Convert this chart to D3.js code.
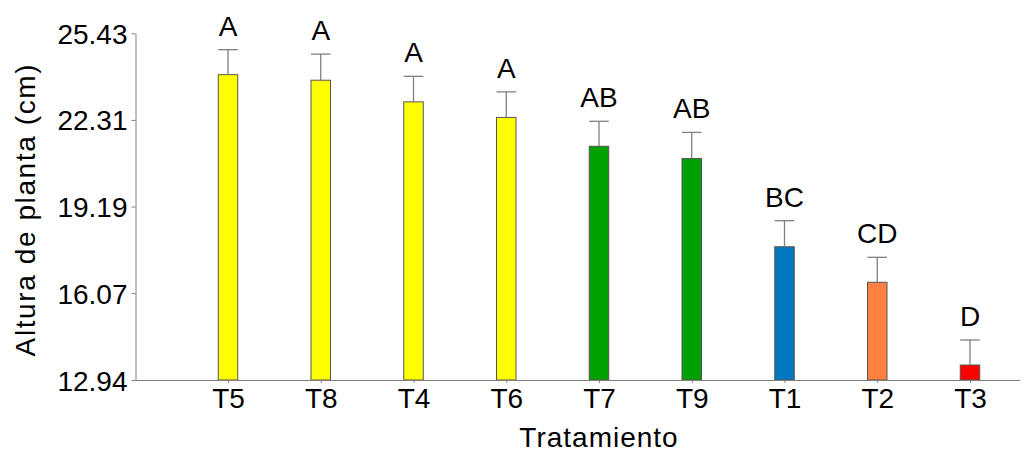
<!DOCTYPE html>
<html lang="es">
<head>
<meta charset="UTF-8">
<title>Altura de planta</title>
<script src="https://d3js.org/d3.v7.min.js"></script>
<style>
    body { margin: 0; background: #fff; }
    svg text { font-family: "Liberation Sans", Arial, sans-serif; fill: #000; }
</style>
</head>
<body>
<div id="chart"></div>
<script>
    // data
    const treatments = ["T5", "T8", "T4", "T6", "T7", "T9", "T1", "T2", "T3"];
    const means = [23.94, 23.74, 22.96, 22.40, 21.36, 20.92, 17.74, 16.46, 13.48];
    const errors = [0.90, 0.94, 0.92, 0.92, 0.90, 0.94, 0.94, 0.90, 0.90];
    const letters = ["A", "A", "A", "A", "AB", "AB", "BC", "CD", "D"];
    const barColors = ["#ffff00", "#ffff00", "#ffff00", "#ffff00", "#00a000", "#00a000", "#0078c0", "#ff8040", "#ff0000"];
    const yTicks = [12.94, 16.07, 19.19, 22.31, 25.43];

    const W = 1026, H = 454;
    const plot = { left: 135.5, right: 1020, top: 33.3, bottom: 380 };

    const svg = d3.select("#chart").append("svg")
        .attr("width", W)
        .attr("height", H);

    const x = d3.scalePoint()
        .domain(treatments)
        .range([228, 970]);

    const y = d3.scaleLinear()
        .domain([12.94, 25.43])
        .range([plot.bottom, plot.top]);

    const barW = 19.5;
    const data = treatments.map((t, i) => ({ t, m: means[i], e: errors[i], l: letters[i], c: barColors[i] }));

    // bars
    svg.selectAll(".bar")
        .data(data)
        .enter().append("rect")
        .attr("class", "bar")
        .attr("x", d => x(d.t) - barW / 2)
        .attr("y", d => y(d.m))
        .attr("width", barW)
        .attr("height", d => y(12.94) - y(d.m))
        .attr("fill", d => d.c)
        .attr("stroke", "#555")
        .attr("stroke-width", 1);

    // error bars (upper only)
    const err = svg.selectAll(".err")
        .data(data)
        .enter().append("g")
        .attr("class", "err")
        .attr("stroke", "#808080")
        .attr("stroke-width", 1.3);
    err.append("line")
        .attr("x1", d => x(d.t)).attr("x2", d => x(d.t))
        .attr("y1", d => y(d.m)).attr("y2", d => y(d.m + d.e));
    err.append("line")
        .attr("x1", d => x(d.t) - barW / 2).attr("x2", d => x(d.t) + barW / 2)
        .attr("y1", d => y(d.m + d.e)).attr("y2", d => y(d.m + d.e));

    // group letters
    svg.selectAll(".letter")
        .data(data)
        .enter().append("text")
        .attr("class", "letter")
        .attr("x", d => x(d.t))
        .attr("y", d => y(d.m + d.e) - 14)
        .attr("text-anchor", "middle")
        .style("font-size", "28px")
        .text(d => d.l);

    // y axis
    const yAxis = svg.append("g")
        .attr("transform", `translate(${plot.left},0)`)
        .call(d3.axisLeft(y).tickValues(yTicks).tickFormat(d3.format(".2f")).tickSize(4).tickSizeOuter(0));
    yAxis.select(".domain").attr("stroke", "#808080");
    yAxis.selectAll(".tick line").attr("stroke", "#808080");
    yAxis.selectAll(".tick text")
        .attr("x", -8)
        .attr("dy", "0.36em")
        .style("font-size", "28px")
        .attr("fill", "#000");

    // x axis
    const xAxis = svg.append("g")
        .attr("transform", `translate(0,${plot.bottom})`)
        .call(d3.axisBottom(x).tickSize(3).tickSizeOuter(0));
    xAxis.select(".domain").attr("d", `M${plot.left},0.5H${plot.right}`).attr("stroke", "#808080");
    xAxis.selectAll(".tick line").attr("stroke", "#808080");
    xAxis.selectAll(".tick text")
        .attr("y", 8)
        .attr("dy", "0.71em")
        .style("font-size", "28px")
        .attr("fill", "#000");

    // axis titles
    svg.append("text")
        .attr("x", (x.range()[0] + x.range()[1]) / 2)
        .attr("y", 447)
        .attr("text-anchor", "middle")
        .style("font-size", "28px")
        .style("letter-spacing", "1px")
        .text("Tratamiento");

    svg.append("text")
        .attr("transform", `translate(35,${(plot.top + plot.bottom) / 2 + 3}) rotate(-90)`)
        .attr("text-anchor", "middle")
        .style("font-size", "28px")
        .style("letter-spacing", "1.6px")
        .text("Altura de planta (cm)");
</script>
</body>
</html>
